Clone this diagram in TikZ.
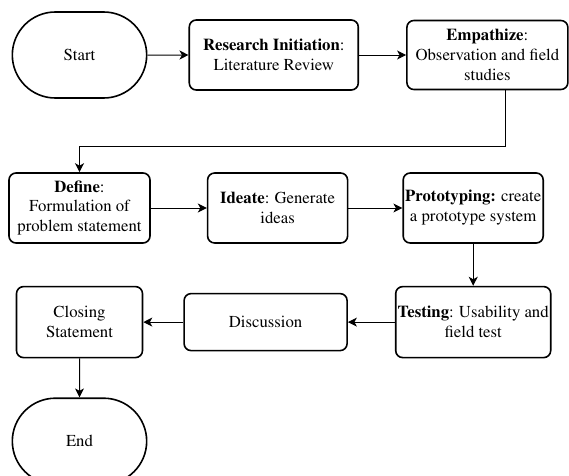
\documentclass[tikz,border=0pt]{standalone}
\usepackage[T1]{fontenc}
\usepackage{times}
\usepackage{tikz}
\usetikzlibrary{shapes.misc, arrows.meta, positioning}
\newcommand{\flowfont}{\fontsize{16.8}{20}\selectfont}
\tikzset{
  term/.style={rounded rectangle, draw, line width=1.6bp, minimum width=141bp, minimum height=86bp, align=center, font=\flowfont},
  stage/.style={rectangle, rounded corners=7bp, draw, line width=1.6bp, minimum height=70bp, align=center, inner xsep=1bp, inner ysep=2bp, font=\flowfont},
  arr/.style={-{Stealth[length=9bp, width=9bp, inset=2.5bp]}, line width=1bp},
}

\begin{document}
\begin{tikzpicture}[node distance=42bp and 47bp]
\useasboundingbox (0,0) rectangle (569bp,-476bp);
% first row
\node[term] (start) at (79.5bp,-55bp) {Start};
\node[stage, right=41bp of start, minimum width=169bp] (init) {\textbf{Research Initiation}:\\Literature Review};
\node[stage, right=of init, minimum width=161bp, minimum height=69bp] (emp) {\textbf{Empathize}:\\Observation and field\\studies};
% second row
\node[stage, minimum width=141bp] (def) at (79.5bp,-208bp) {\textbf{Define}:\\Formulation of\\problem statement};
\node[stage, right=56bp of def, minimum width=140bp] (idea) {\textbf{Ideate}: Generate\\ideas};
\node[stage, right=54bp of idea, minimum width=140bp] (proto) {\textbf{Prototyping:} create\\a prototype system};
% third row
\node[stage, below=of proto, minimum width=155bp, minimum height=71bp] (test) {\textbf{Testing}: Usability and\\field test};
\node[stage, left=of test, minimum width=163bp, minimum height=57bp] (disc) {Discussion};
\node[stage, left=40bp of disc, minimum width=126bp, minimum height=71bp] (close) {Closing\\Statement};
\node[term, below=39bp of close] (stop) {End};
\draw[arr] (start) -- (init);
\draw[arr] (init) -- (emp);
\draw[arr] ([xshift=18bp]emp.south) -- ++(0,-56bp) -| (def.north);
\draw[arr] (def) -- (idea);
\draw[arr] (idea) -- (proto);
\draw[arr] (proto) -- (test);
\draw[arr] (test) -- (disc);
\draw[arr] (disc) -- (close);
\draw[arr] (close) -- (stop);
\end{tikzpicture}
\end{document}
